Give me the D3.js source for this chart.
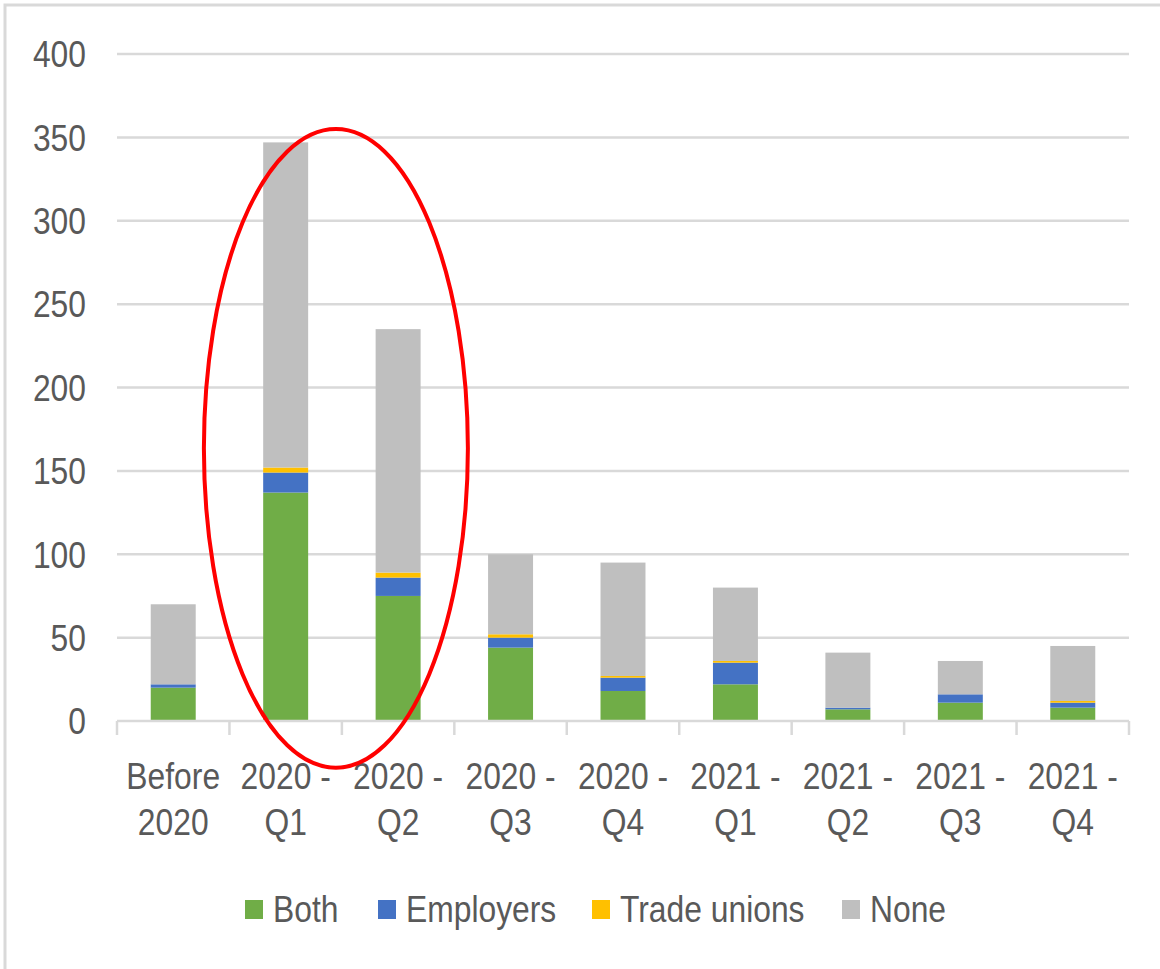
<!DOCTYPE html>
<html>
<head>
  <title>Stacked bars</title>
  <script src="https://d3js.org/d3.v7.min.js"></script>
  <style>
    body { margin: 0; background: #fff; }
    text { font-family: "Liberation Sans", Arial, sans-serif; fill: #595959; font-size: 37px; }
  </style>
</head>
<body>
  <svg id="chart"></svg>

  <script>
    // categories and series
    var categories = ["Before 2020", "2020 - Q1", "2020 - Q2", "2020 - Q3", "2020 - Q4",
                      "2021 - Q1", "2021 - Q2", "2021 - Q3", "2021 - Q4"];
    var catLines = [["Before", "2020"], ["2020 -", "Q1"], ["2020 -", "Q2"], ["2020 -", "Q3"], ["2020 -", "Q4"],
                    ["2021 -", "Q1"], ["2021 -", "Q2"], ["2021 -", "Q3"], ["2021 -", "Q4"]];
    var seriesNames = ["Both", "Employers", "Trade unions", "None"];
    var both        = [20, 137, 75, 44, 18, 22, 7, 11, 8];
    var employers   = [2, 12, 11, 6, 8, 13, 1, 5, 3];
    var tradeUnions = [0, 3, 3, 2, 1, 1, 0, 0, 1];
    var none        = [48, 195, 146, 48, 68, 44, 33, 20, 33];
    var yTicks = [0, 50, 100, 150, 200, 250, 300, 350, 400];
    var colors = ["#70AD47", "#4472C4", "#FFC000", "#BFBFBF"];

    var width = 1160, height = 969;
    var sx = 0.86; // the reference text is a narrow face, squeeze it a bit
    var svg = d3.select("#chart").attr("width", width).attr("height", height);

    function place(px, py) { return "translate(" + px + "," + py + ") scale(" + sx + ",1)"; }

    // outer frame
    svg.append("rect")
       .attr("x", 5).attr("y", 5)
       .attr("width", width + 10).attr("height", height + 10)
       .attr("fill", "none").attr("stroke", "#d9d9d9").attr("stroke-width", 3);

    var x = d3.scaleBand().domain(categories).range([117, 1129]).paddingInner(0.6).paddingOuter(0.3);
    var y = d3.scaleLinear().domain([0, 400]).range([721, 54]);

    // gridlines
    svg.append("g").selectAll("line")
       .data(yTicks.filter(d => d > 0))
       .enter().append("line")
       .attr("x1", 117).attr("x2", 1129)
       .attr("y1", d => y(d)).attr("y2", d => y(d))
       .attr("stroke", "#d9d9d9").attr("stroke-width", 2.5);

    // y labels
    svg.append("g").selectAll("text")
       .data(yTicks)
       .enter().append("text")
       .attr("transform", d => place(86, y(d)))
       .attr("dy", "0.36em")
       .attr("text-anchor", "end")
       .text(d => d);

    // stacked bars
    var rows = categories.map(function(c, i) {
      return { cat: c, "Both": both[i], "Employers": employers[i], "Trade unions": tradeUnions[i], "None": none[i] };
    });
    var stack = d3.stack().keys(seriesNames)(rows);

    svg.append("g").selectAll("g")
       .data(stack)
       .enter().append("g")
       .attr("fill", (d, i) => colors[i])
       .selectAll("rect")
       .data(d => d)
       .enter().append("rect")
       .attr("x", d => x(d.data.cat))
       .attr("width", x.bandwidth())
       .attr("y", d => y(d[1]))
       .attr("height", d => y(d[0]) - y(d[1]));

    // x axis line and ticks
    var step = x.step();
    var axis = svg.append("g");
    axis.append("line")
        .attr("x1", 117).attr("x2", 1129)
        .attr("y1", y(0)).attr("y2", y(0))
        .attr("stroke", "#d9d9d9").attr("stroke-width", 2.5);
    axis.selectAll("line.tick")
        .data(d3.range(categories.length + 1))
        .enter().append("line")
        .attr("class", "tick")
        .attr("x1", i => 117 + i * step).attr("x2", i => 117 + i * step)
        .attr("y1", y(0)).attr("y2", y(0) + 14)
        .attr("stroke", "#d9d9d9").attr("stroke-width", 2.5);

    // category labels, two lines each
    var lab = svg.append("g").selectAll("text")
       .data(categories)
       .enter().append("text")
       .attr("text-anchor", "middle")
       .attr("transform", d => place(x(d) + x.bandwidth() / 2, 789));
    lab.selectAll("tspan")
       .data((d, i) => catLines[i])
       .enter().append("tspan")
       .attr("x", 0)
       .attr("y", (d, j) => j * 46)
       .text(d => d);

    // legend
    var legendX = [245, 378, 592, 842];
    var legend = svg.append("g").selectAll("g")
       .data(seriesNames)
       .enter().append("g")
       .attr("transform", (d, i) => "translate(" + legendX[i] + ",900)");
    legend.append("rect")
       .attr("width", 18).attr("height", 19)
       .attr("fill", (d, i) => colors[i]);
    legend.append("text")
       .attr("transform", place(28, 9))
       .attr("dy", "0.36em")
       .text(d => d);

    // red ellipse annotation around the 2020 Q1/Q2 bars
    var cx = (x("2020 - Q1") + x("2020 - Q2") + x.bandwidth()) / 2 - 6;
    svg.append("ellipse")
       .attr("cx", cx)
       .attr("cy", (y(355) + y(-28)) / 2)
       .attr("rx", 132)
       .attr("ry", (y(-28) - y(355)) / 2)
       .attr("fill", "none")
       .attr("stroke", "#ff0000")
       .attr("stroke-width", 4);
  </script>
</body>
</html>
